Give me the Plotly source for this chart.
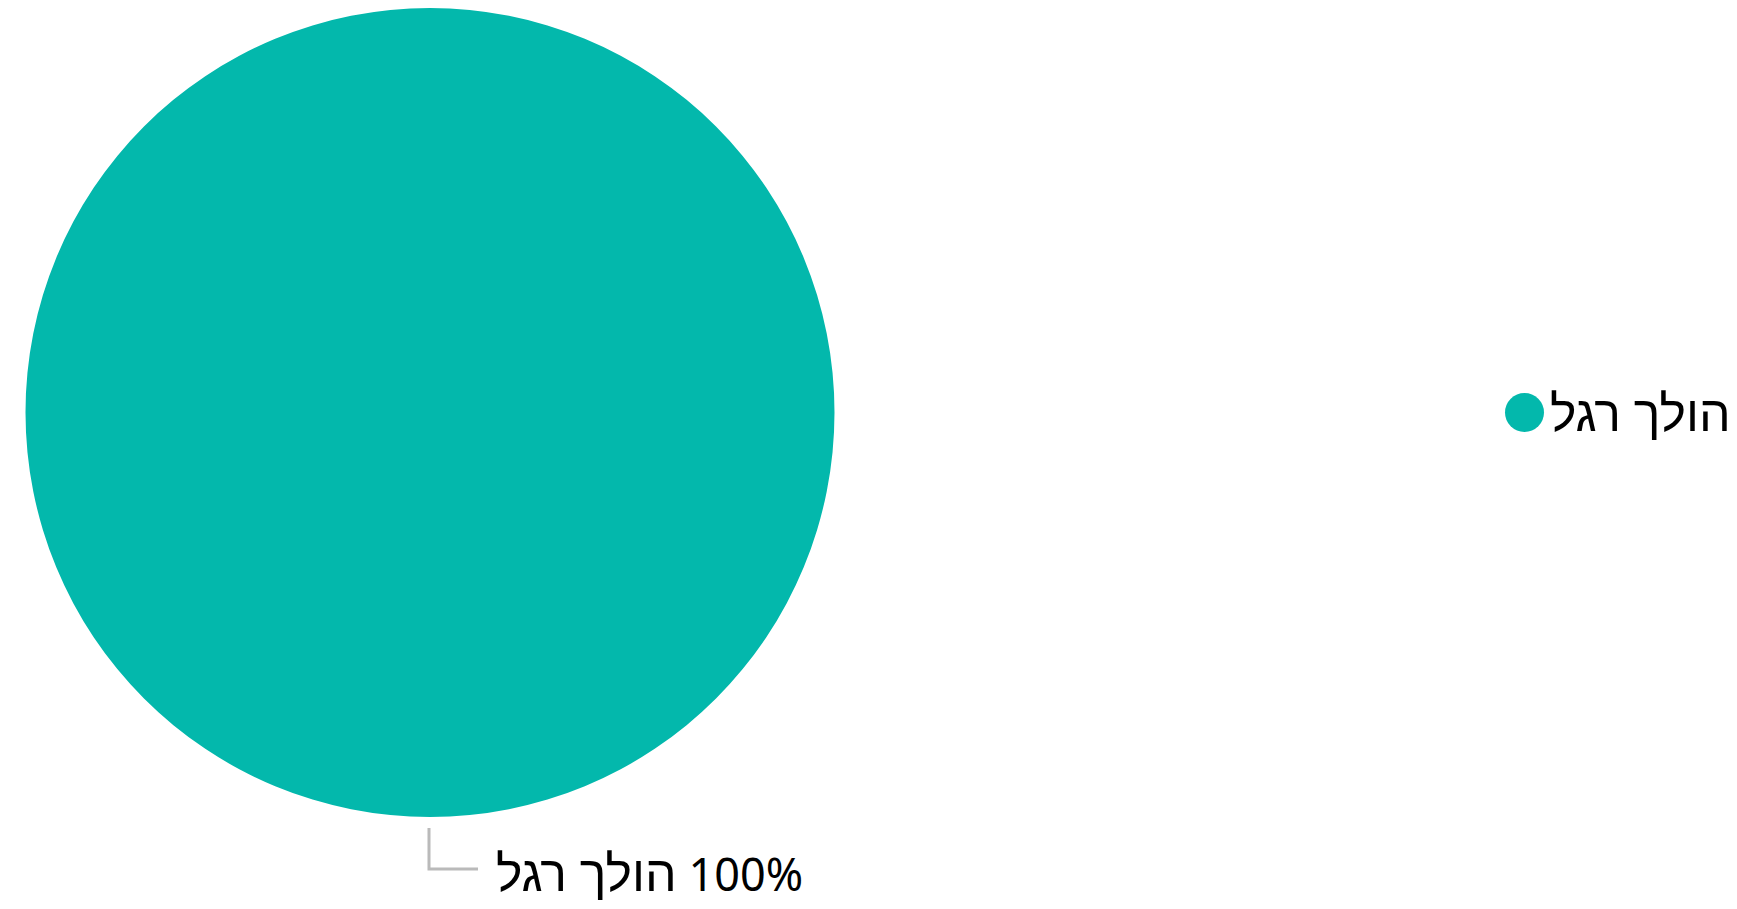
import plotly.graph_objects as go

# Data
categories = ["הולך רגל"]
values = [1]
colors = ["#03b8ac"]

W, H = 1737, 909
OFF = 8  # page body margin offset
cx, cy, r = 430 - OFF, 404.5, 404.5

total = sum(values)
pct = [round(v / total * 100) for v in values]

fig = go.Figure()
fig.add_trace(go.Pie(
    labels=categories,
    values=values,
    marker=dict(colors=colors, line=dict(width=0)),
    textinfo="none",
    hoverinfo="label+percent",
    sort=False,
    showlegend=False,
    domain=dict(x=[(cx - r) / W, (cx + r) / W],
                y=[max(0.0, 1 - (cy + r) / H), min(1.0, 1 - (cy - r) / H)]),
))

font = dict(family="Noto Sans, sans-serif", size=45, color="#000000")
HEB = '<span style="font-size:50px">{}</span>'


def px(x):
    return (x - OFF) / W


def py(y):
    return 1 - (y - OFF) / H


# leader line for the label
fig.add_shape(type="path", xref="paper", yref="paper",
              path=f"M {px(429)},{py(828)} L {px(429)},{py(869)} L {px(478)},{py(869)}",
              line=dict(color="#bababa", width=3))

# outside label
fig.add_annotation(text=HEB.format(categories[0]) + f"\u200e {pct[0]}%", xref="paper", yref="paper",
                   x=px(494), y=py(872), xanchor="left", yanchor="middle",
                   showarrow=False, font=font)

# legend (circle symbol + text)
lx, ly, lr = 1524.5, 412.5, 19.5
fig.add_shape(type="circle", xref="paper", yref="paper",
              x0=px(lx - lr), x1=px(lx + lr), y0=py(ly + lr), y1=py(ly - lr),
              fillcolor=colors[0], line=dict(width=0))
fig.add_annotation(text=HEB.format(categories[0]), xref="paper", yref="paper",
                   x=px(1733), y=py(412), xanchor="right", yanchor="middle",
                   showarrow=False, font=font)

fig.update_layout(
    width=W, height=H,
    margin=dict(l=0, r=0, t=0, b=0),
    paper_bgcolor="white", plot_bgcolor="white",
)

fig.write_html("out.html")
